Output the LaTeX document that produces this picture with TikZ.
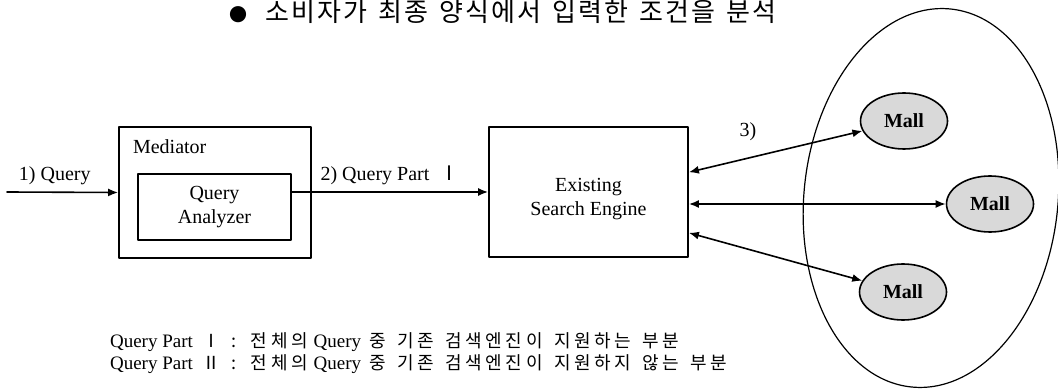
\documentclass[tikz,border=0pt]{standalone}
\usepackage{fontspec}
\setmainfont{Liberation Serif}
\newfontfamily\cjk{Noto Sans CJK KR}[LetterSpace=8,WordSpace=1.4]
\newfontfamily\cjkleg{Noto Sans CJK KR}[LetterSpace=20,WordSpace=1.5]
\usetikzlibrary{arrows.meta,calc,shapes.geometric}
\begin{document}
\begin{tikzpicture}[x=0.5pt, y=-0.5pt, font=\fontsize{10}{12}\selectfont, line join=round, line cap=round, >={Latex[length=5pt,width=4pt]},
	box/.style={draw, line width=0.9pt, inner sep=0pt},
	mall/.style={draw, ellipse, fill=gray!30, line width=0.8pt, minimum width=43.5pt, minimum height=28pt, inner sep=0pt, font=\fontsize{10}{12}\selectfont\bfseries},
	conn/.style={line width=0.8pt}]
	\useasboundingbox (0,0) rectangle (1058,389);
	\def\lsize{\fontsize{9}{11}\selectfont}
	\node[anchor=base west, font=\cjk\fontsize{13}{15}\selectfont, inner sep=0pt] (title) at (229,22) {{\fontsize{9}{9}\selectfont ●}\hspace{9pt}소비자가 최종 양식에서 입력한 조건을 분석};
	% blocks
	\node[box, minimum width=96pt, minimum height=65.5pt] (med) at (215,192.5) {};
	\node[anchor=west] (medlbl) at (126,147) {Mediator};
	\node[box, minimum width=76.5pt, minimum height=33pt, align=center] (qa) at (214.5,207) {Query\\Analyzer};
	\node[box, minimum width=99.5pt, minimum height=65pt] (se) at (588.5,192) {};
	\node[align=center] (setxt) at ([yshift=-3.5pt]se.center) {Existing\\Search Engine};
	% malls
	\draw[line width=0.6pt, rotate around={-6:(931,198)}] (931,198) ellipse [x radius=127, y radius=190];
	\node[mall] (m1) at (904,121) {Mall};
	\node[mall] (m2) at (990,204) {Mall};
	\node[mall] (m3) at (903,292) {Mall};
	% connectors
	\coordinate (qin) at (7,192);
	\draw[->, conn] (qin) -- node[above, pos=0.43] (lbl1) {1) Query} (med.west);
	\draw[->, conn] (qa.east |- se.west) -- node[above] (lbl2) {2) Query Part\ \ {\cjk Ⅰ}} (se.west);
	\draw[<->, conn] ($(se.north east)!0.35!(se.south east)$) -- (m1);
	\draw[<->, conn] (se.east |- m2) -- (m2);
	\draw[<->, conn] ($(se.north east)!0.81!(se.south east)$) -- (m3);
	\node (lbl3) at (748,132) {3)};
	% legend
	\node[anchor=base west, font=\fontsize{9.5}{11}\selectfont] (leg1) at (103,347) {Query Part\ \ {\cjkleg\lsize Ⅰ : 전체의}\hspace{3pt}Query\hspace{4pt}{\cjkleg\lsize 중 기존 검색엔진이 지원하는 부분}};
	\node[anchor=base west, font=\fontsize{9.5}{11}\selectfont] (leg2) at (103,369) {Query Part\ \ {\cjkleg\lsize Ⅱ : 전체의}\hspace{3pt}Query\hspace{4pt}{\cjkleg\lsize 중 기존 검색엔진이 지원하지 않는 부분}};
\end{tikzpicture}
\end{document}
